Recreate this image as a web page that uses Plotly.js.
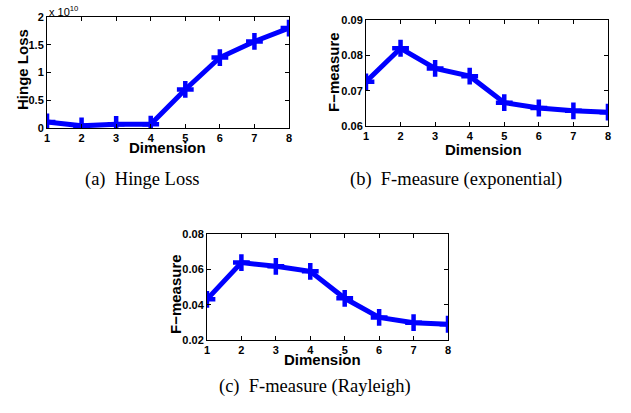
<!DOCTYPE html>
<html>
<head>
<meta charset="utf-8">
<script src="https://cdn.plot.ly/plotly-3.0.1.min.js"></script>
<style>html,body{margin:0;padding:0;background:#fff;}#chart{width:631px;height:413px;}</style>
</head>
<body>
<div id="chart"></div>
<script>
const dimensions = [1, 2, 3, 4, 5, 6, 7, 8];
const hingeLoss = [0.11, 0.04, 0.066, 0.07, 0.695, 1.27, 1.56, 1.80]; // x 10^10
const fExponential = [0.0725, 0.0820, 0.0763, 0.0741, 0.0666, 0.0651, 0.0643, 0.0639];
const fRayleigh = [0.0430, 0.0638, 0.0617, 0.0589, 0.0436, 0.0328, 0.0298, 0.0289];
const captions = ["(a)\u2002Hinge Loss", "(b)\u2002F-measure (exponential)", "(c)\u2002F-measure (Rayleigh)"];
const xTitle = "Dimension";
const yTitles = ["Hinge Loss", "F\u2212measure", "F\u2212measure"];

const blue = "#0000ff";
function series(y, xa, ya) {
  return {
    x: dimensions, y: y, xaxis: xa, yaxis: ya, type: "scatter", mode: "lines+markers",
    line: {color: blue, width: 5},
    marker: {symbol: "cross-thin", size: 12, color: blue, line: {color: blue, width: 4.5}},
    hoverinfo: "x+y", showlegend: false
  };
}
const tickFont = {family: "Liberation Sans, Arial, sans-serif", size: 11, color: "#000", weight: "bold"};
const titleFont = {family: "Liberation Sans, Arial, sans-serif", size: 15, color: "#000", weight: "bold"};
function xax(domain, anchor) {
  return {domain: domain, anchor: anchor, range: [1, 8], tickvals: dimensions, ticks: "inside", ticklen: 4,
    tickcolor: "#000", showline: true, linecolor: "#000", linewidth: 1, mirror: "ticks", showgrid: false,
    zeroline: false, tickfont: tickFont, automargin: false};
}
function yax(domain, anchor, range, dtick, fmt) {
  return {domain: domain, anchor: anchor, range: range, dtick: dtick, tick0: range[0], tickformat: fmt, ticks: "inside", ticklen: 4,
    tickcolor: "#000", showline: true, linecolor: "#000", linewidth: 1, mirror: "ticks", showgrid: false,
    zeroline: false, tickfont: tickFont, automargin: false};
}
const data = [
  series(hingeLoss, "x", "y"),
  series(fExponential, "x2", "y2"),
  series(fRayleigh, "x3", "y3")
];
const capFont = {family: "Liberation Serif, Times New Roman, serif", size: 18.5, color: "#000"};
function pa(text, px, py, font, extra) {
  return Object.assign({text: text, xref: "paper", yref: "paper", x: px / 631, y: 1 - py / 413,
    xanchor: "center", yanchor: "middle", showarrow: false, borderpad: 0, font: font}, extra || {});
}
const layout = {
  width: 631, height: 413, margin: {l: 0, r: 0, t: 0, b: 0},
  paper_bgcolor: "#fff", plot_bgcolor: "#fff",
  xaxis: xax([0.0745, 0.458], "y"),
  yaxis: yax([0.690, 0.9588], "x", [0, 2], 0.5, ""),
  xaxis2: xax([0.580, 0.9635], "y2"),
  yaxis2: yax([0.6949, 0.9516], "x2", [0.06, 0.09], 0.01, ".2f"),
  xaxis3: xax([0.328, 0.710], "y3"),
  yaxis3: yax([0.1768, 0.4334], "x3", [0.02, 0.08], 0.02, ".2f"),
  annotations: [
    {text: "x 10<sup>10</sup>", xref: "paper", yref: "paper", x: 0.0745, y: 0.9588, xanchor: "left", yanchor: "bottom",
     showarrow: false, font: {family: "Liberation Sans, Arial, sans-serif", size: 11, color: "#000"}, yshift: -3},
    pa(xTitle, 167, 148, titleFont),
    pa(xTitle, 483, 149, titleFont),
    pa(xTitle, 322, 359, titleFont),
    pa(yTitles[0], 22, 70, titleFont, {textangle: -90}),
    pa(yTitles[1], 333, 72, titleFont, {textangle: -90}),
    pa(yTitles[2], 175, 294, titleFont, {textangle: -90}),
    pa(captions[0], 142, 179, capFont),
    pa(captions[1], 456, 179, capFont),
    pa(captions[2], 315, 386, capFont)
  ]
};
Plotly.newPlot("chart", data, layout, {displayModeBar: false, staticPlot: true});
</script>
</body>
</html>
